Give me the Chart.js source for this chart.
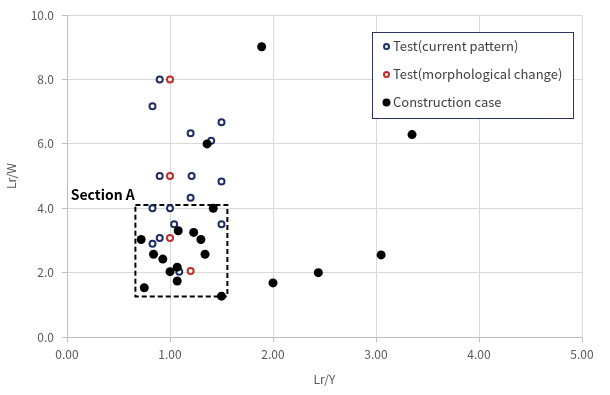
<!DOCTYPE html>
<html>
<head>
<meta charset="utf-8">
<script src="https://cdn.jsdelivr.net/npm/chart.js@4.4.1/dist/chart.umd.min.js"></script>
<style>
  html, body { margin: 0; padding: 0; background: #ffffff; }
  #wrap { width: 610px; height: 395px; }
</style>
</head>
<body>
<div id="wrap"><canvas id="chart" width="610" height="395"></canvas></div>
<script>
// Test (current pattern)
const currentX = [0.90, 0.83, 1.50, 1.20, 1.40, 0.90, 1.21, 1.50, 1.20, 0.83, 1.00, 1.04, 1.50, 0.90, 0.83, 1.09];
const currentY = [8.00, 7.17, 6.67, 6.33, 6.10, 5.00, 5.00, 4.83, 4.33, 4.00, 4.00, 3.50, 3.50, 3.08, 2.90, 2.03];

// Test (morphological change)
const morphX = [1.00, 1.00, 1.00, 1.20];
const morphY = [8.00, 5.00, 3.08, 2.05];

// Construction case
const constructionX = [1.89, 1.36, 3.35, 1.42, 1.08, 1.23, 1.30, 0.72, 0.84, 1.34, 0.93, 1.07, 1.00, 1.07, 0.75, 1.50, 2.00, 2.44, 3.05];
const constructionY = [9.02, 6.00, 6.29, 4.00, 3.30, 3.25, 3.03, 3.03, 2.57, 2.57, 2.42, 2.17, 2.03, 1.74, 1.53, 1.27, 1.68, 2.00, 2.55];

// Section A box corners
const sectionBoxX = [0.664, 1.557, 1.557, 0.664, 0.664];
const sectionBoxY = [4.10, 4.10, 1.26, 1.26, 4.10];
const sectionLabel = 'Section A';
const sectionLabelAt = [0.036, 4.43];

const xTicks = [0, 1, 2, 3, 4, 5];
const yTicks = [0, 2, 4, 6, 8, 10];

const FONT = '"Noto Sans CJK KR", "Noto Sans", sans-serif';

function toPoints(xs, ys) {
    return xs.map((x, i) => ({ x: x, y: ys[i] }));
}

const sectionLabelPlugin = {
    id: 'sectionLabel',
    afterDatasetsDraw(chart) {
        const ctx = chart.ctx;
        const px = chart.scales.x.getPixelForValue(sectionLabelAt[0]);
        const py = chart.scales.y.getPixelForValue(sectionLabelAt[1]);
        ctx.save();
        ctx.font = 'bold 14px ' + FONT;
        ctx.fillStyle = '#000000';
        ctx.textAlign = 'left';
        ctx.textBaseline = 'middle';
        ctx.fillText(sectionLabel, px, py);
        ctx.restore();
    }
};

// legend box drawn inside the plot, top right
const boxLegendPlugin = {
    id: 'boxLegend',
    afterDraw(chart) {
        const ctx = chart.ctx;
        const left = 372, top = 32, w = 201, h = 86;
        ctx.save();
        ctx.fillStyle = '#ffffff';
        ctx.fillRect(left, top, w, h);
        ctx.strokeStyle = '#2b3266';
        ctx.lineWidth = 1;
        ctx.strokeRect(left + 0.5, top + 0.5, w, h);
        const rows = [46.5, 74.5, 102.5];
        chart.data.datasets.filter(ds => !ds.hideInLegend).forEach((ds, i) => {
            const y = rows[i];
            ctx.beginPath();
            ctx.arc(386.5, y, ds.legendRadius, 0, Math.PI * 2);
            ctx.fillStyle = ds.pointBackgroundColor;
            ctx.fill();
            if (ds.pointBorderWidth) {
                ctx.lineWidth = ds.pointBorderWidth;
                ctx.strokeStyle = ds.pointBorderColor;
                ctx.stroke();
            }
            ctx.font = '13px ' + FONT;
            ctx.fillStyle = '#404040';
            ctx.textAlign = 'left';
            ctx.textBaseline = 'middle';
            ctx.fillText(ds.label, 393, y);
        });
        ctx.restore();
    }
};

new Chart(document.getElementById('chart'), {
    type: 'scatter',
    data: {
        datasets: [{
            label: 'Test(current pattern)',
            data: toPoints(currentX, currentY),
            order: 2,
            pointRadius: 3,
            pointBorderWidth: 2,
            pointBackgroundColor: '#ffffff',
            pointBorderColor: '#1f2d66',
            legendRadius: 2.5
        }, {
            label: 'Test(morphological change)',
            data: toPoints(morphX, morphY),
            order: 1,
            pointRadius: 3,
            pointBorderWidth: 2,
            pointBackgroundColor: '#ffffff',
            pointBorderColor: '#c42b2b',
            legendRadius: 2.5
        }, {
            label: 'Construction case',
            data: toPoints(constructionX, constructionY),
            order: 0,
            pointRadius: 4.5,
            pointBorderWidth: 0,
            pointBackgroundColor: '#000000',
            pointBorderColor: '#000000',
            legendRadius: 4
        }, {
            label: 'Section A',
            data: toPoints(sectionBoxX, sectionBoxY),
            order: 3,
            hideInLegend: true,
            showLine: true,
            borderColor: '#000000',
            borderWidth: 2,
            borderDash: [5, 3],
            pointRadius: 0,
            fill: false
        }]
    },
    options: {
        responsive: false,
        animation: false,
        devicePixelRatio: 1,
        layout: { padding: { top: 14, right: 28, left: 0, bottom: 0 } },
        plugins: {
            legend: { display: false },
            tooltip: { enabled: false }
        },
        scales: {
            x: {
                type: 'linear',
                min: 0,
                max: 5,
                afterBuildTicks: (scale) => { scale.ticks = xTicks.map(v => ({ value: v })); },
                afterFit: (scale) => { scale.height = 58; },
                ticks: {
                    color: '#595959',
                    font: { family: FONT, size: 12 },
                    padding: 5,
                    maxRotation: 0,
                    callback: (v) => Number(v).toFixed(2)
                },
                grid: { color: '#d9d9d9', tickColor: '#bfbfbf', tickLength: 5 },
                border: { color: '#bfbfbf' },
                title: {
                    display: true,
                    text: 'Lr/Y',
                    color: '#595959',
                    font: { family: FONT, size: 12 },
                    padding: { top: 4, bottom: 8 }
                }
            },
            y: {
                type: 'linear',
                min: 0,
                max: 10,
                afterBuildTicks: (scale) => { scale.ticks = yTicks.map(v => ({ value: v })); },
                afterFit: (scale) => { scale.width = 67; },
                ticks: {
                    color: '#595959',
                    font: { family: FONT, size: 12 },
                    padding: 8,
                    callback: (v) => Number(v).toFixed(1)
                },
                grid: { color: '#d9d9d9', tickColor: '#bfbfbf', tickLength: 5 },
                border: { color: '#bfbfbf' },
                title: {
                    display: true,
                    text: 'Lr/W',
                    color: '#595959',
                    font: { family: FONT, size: 12 },
                    padding: { top: 4, bottom: 4 }
                }
            }
        }
    },
    plugins: [sectionLabelPlugin, boxLegendPlugin]
});
</script>
</body>
</html>
